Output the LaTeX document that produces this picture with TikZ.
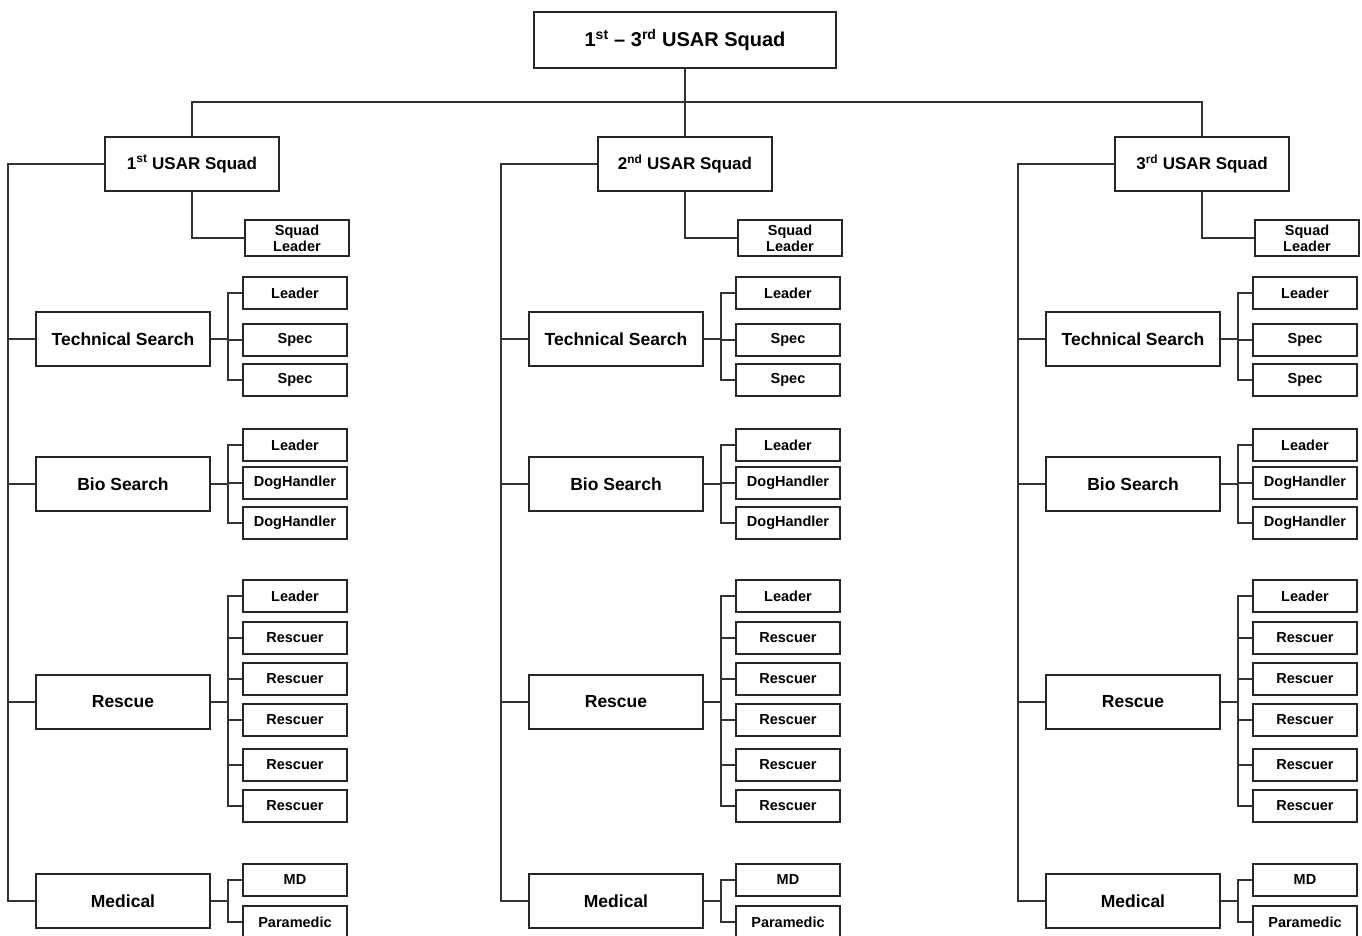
\documentclass[tikz,border=0pt]{standalone}
\usepackage{fontspec}
\setmainfont{Liberation Sans}
\tikzset{
  box/.style={draw=black!85, line width=1.6pt, fill=white, inner sep=0pt, align=center},
  topbox/.style={box, minimum width=302pt, minimum height=56pt, font=\fontsize{20}{24}\selectfont\bfseries},
  squadbox/.style={box, minimum width=174pt, minimum height=54pt, font=\fontsize{17}{20}\selectfont\bfseries},
  groupbox/.style={box, minimum width=174pt, minimum height=54pt, font=\fontsize{17.5}{20}\selectfont\bfseries},
  memberbox/.style={box, minimum width=104pt, minimum height=32pt, font=\fontsize{14.5}{17}\selectfont\bfseries},
  leaderbox/.style={box, minimum width=104pt, minimum height=36pt, font=\fontsize{14.5}{17}\selectfont\bfseries},
  conn/.style={draw=black!80, line width=1.5pt},
}
\begin{document}
\begin{tikzpicture}[x=1pt,y=-1pt]
\useasboundingbox (0,0) rectangle (1362,936);
\node[topbox] (top) at (685,40) {1\textsuperscript{st} – 3\textsuperscript{rd} USAR Squad};
\coordinate (bus) at (685,102);
\foreach \c/\o/\s in {1/0/st,2/493/nd,3/1010/rd}{
  \node[squadbox] (sq\c) at (192+\o,164) {\c\textsuperscript{\s} USAR Squad};
  \node[leaderbox] (sl\c) at (297+\o,238) {Squad\\[-1pt]Leader};
  \draw[conn] (sq\c.south) |- (sl\c.west);
  \foreach \g/\gy/\gl/\members in {
      ts/339/Technical Search/{293/Leader,340/Spec,380/Spec},
      bio/484/Bio Search/{445/Leader,483/DogHandler,523/DogHandler},
      res/702/Rescue/{596/Leader,638/Rescuer,679/Rescuer,720/Rescuer,765/Rescuer,806/Rescuer},
      med/901/Medical/{880/MD,922/Paramedic}}{
    \node[groupbox] (\g\c) at (123+\o,\gy) {\gl};
    \draw[conn] (sq\c.west) -- ++(-96,0) |- (\g\c.west);
    \foreach \my/\ml [count=\k] in \members {
      \node[memberbox] (\g\c m\k) at (295+\o,\my) {\ml};
      \draw[conn] (\g\c.east) -- ++(17,0) |- (\g\c m\k.west);
    }
  }
}
\draw[conn] (top.south) -- (sq2.north);
\draw[conn] (sq1.north) |- (bus) -| (sq3.north);
\end{tikzpicture}
\end{document}
